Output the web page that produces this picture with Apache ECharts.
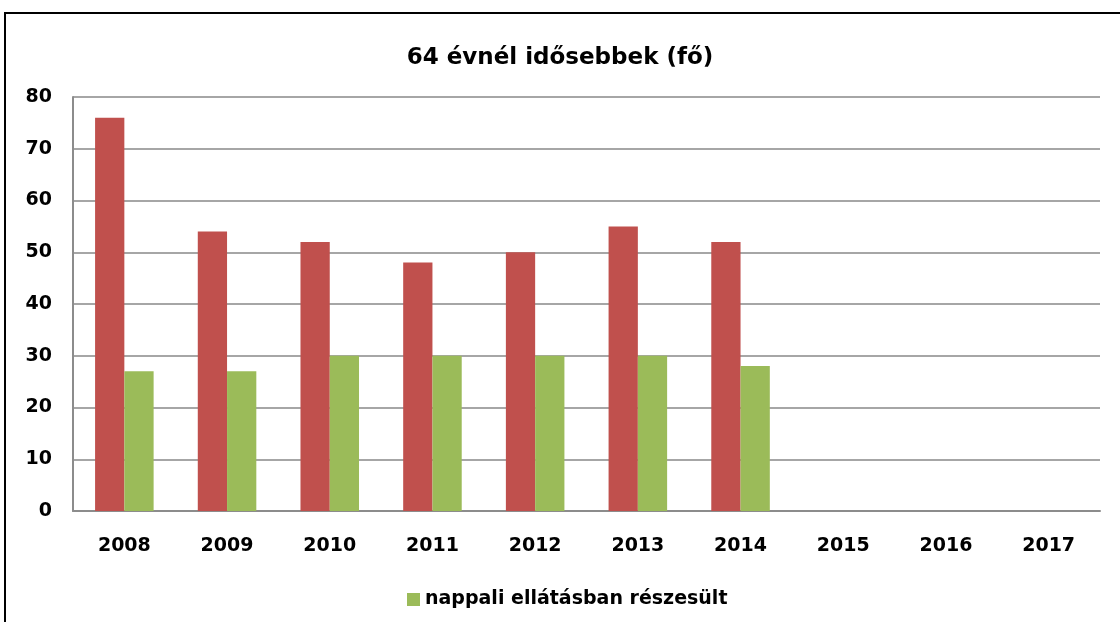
<!DOCTYPE html>
<html>
<head>
<meta charset="utf-8">
<script src="https://cdn.jsdelivr.net/npm/echarts@6/dist/echarts.min.js"></script>
<style>
  html, body { margin: 0; padding: 0; background: #fff; }
  #chart { width: 1120px; height: 622px; }
</style>
</head>
<body>
<div id="chart"></div>
<script>
// chart data
const years = ['2008', '2009', '2010', '2011', '2012', '2013', '2014', '2015', '2016', '2017'];
const osszesValues = [76, 54, 52, 48, 50, 55, 52, null, null, null];
const nappaliValues = [27, 27, 30, 30, 30, 30, 28, null, null, null];
const nappaliName = 'nappali ellátásban részesült';
const yTicks = [0, 10, 20, 30, 40, 50, 60, 70, 80];

const font = 'DejaVu Sans';
const chart = echarts.init(document.getElementById('chart'), null, { renderer: 'canvas' });

chart.setOption({
  animation: false,
  backgroundColor: '#fff',
  title: {
    text: '64 évnél idősebbek (fő)',
    left: 'center',
    top: 42,
    textStyle: { fontFamily: font, fontWeight: 'bold', fontSize: 23, color: '#000' }
  },
  legend: {
    data: [nappaliName],
    left: 402,
    top: 585,
    itemWidth: 13,
    itemHeight: 13,
    itemGap: 8,
    icon: 'rect',
    textStyle: { fontFamily: font, fontWeight: 'bold', fontSize: 19, color: '#000' }
  },
  grid: { left: 73, right: 20, top: 97, bottom: 111, containLabel: false },
  xAxis: {
    type: 'category',
    data: years,
    axisLine: { lineStyle: { color: '#8c8c8c', width: 2 } },
    axisTick: { show: false },
    axisLabel: {
      margin: 26,
      fontFamily: font, fontWeight: 'bold', fontSize: 19, color: '#000'
    }
  },
  yAxis: {
    type: 'value',
    min: yTicks[0],
    max: yTicks[yTicks.length - 1],
    interval: 10,
    axisLine: { show: true, lineStyle: { color: '#8c8c8c', width: 2 } },
    axisTick: { show: false },
    splitLine: { lineStyle: { color: '#a6a6a6', width: 2 } },
    axisLabel: {
      margin: 21,
      fontFamily: font, fontWeight: 'bold', fontSize: 19, color: '#000'
    }
  },
  series: [
    {
      name: '',
      type: 'bar',
      data: osszesValues,
      barGap: '0%',
      barCategoryGap: '43%',
      itemStyle: { color: '#C0504D' }
    },
    {
      name: nappaliName,
      type: 'bar',
      data: nappaliValues,
      itemStyle: { color: '#9BBB59' }
    }
  ],
  graphic: [
    {
      type: 'rect',
      shape: { x: 5, y: 13, width: 1200, height: 700 },
      style: { fill: 'none', stroke: '#000', lineWidth: 2 },
      silent: true
    }
  ]
});
</script>
</body>
</html>
